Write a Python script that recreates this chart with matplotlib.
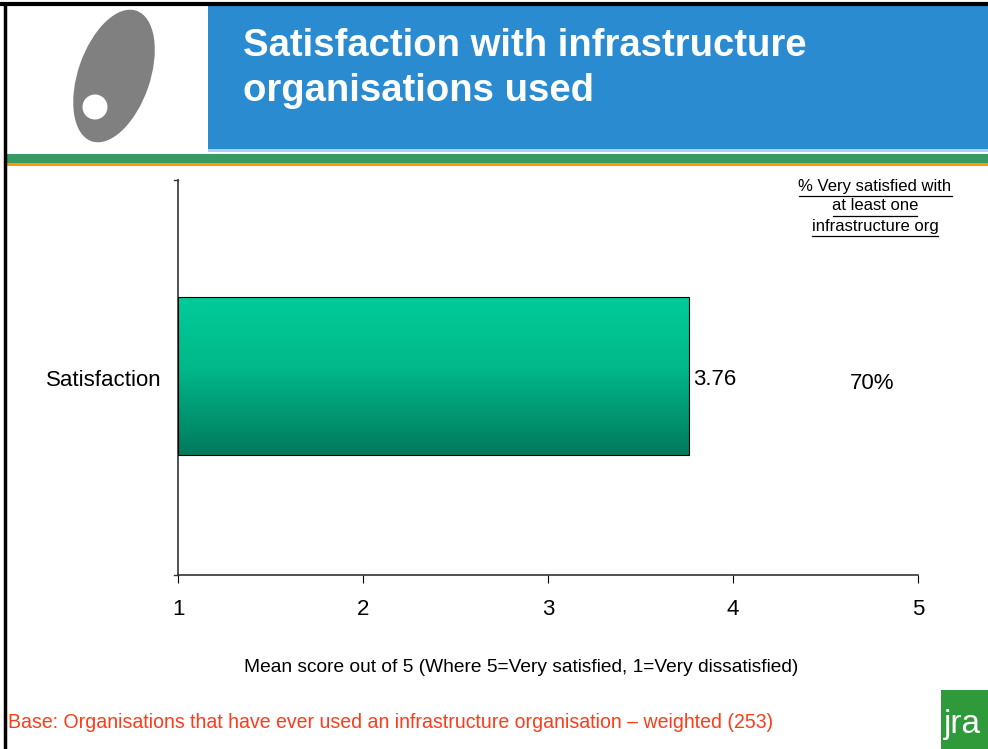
import numpy as np
import matplotlib.pyplot as plt
from matplotlib.patches import Rectangle, Ellipse, Circle
from matplotlib.colors import LinearSegmentedColormap

plt.rcParams['font.family'] = ['Liberation Sans', 'DejaVu Sans']

# Dados
categorias = ['Satisfaction']
medias = [3.76]
pct_muito_satisfeito = ['70%']
ticks_x = [1, 2, 3, 4, 5]

W, H = 988, 749
fig = plt.figure(figsize=(W / 100, H / 100), dpi=100)

# camada de fundo em pixels (cabecalho, logos, molduras)
bg = fig.add_axes([0, 0, 1, 1])
bg.set_xlim(0, W)
bg.set_ylim(H, 0)
bg.axis('off')

bg.add_patch(Rectangle((208, 5), W - 208, 145, color='#2A8BD0', lw=0))
bg.add_patch(Rectangle((208, 149), W - 208, 3, color='#A8D2F0', lw=0))
bg.add_patch(Rectangle((5, 154), W - 5, 9, color='#379A62', lw=0))
bg.add_patch(Rectangle((5, 163), W - 5, 3, color='#FF9900', lw=0))
bg.plot([0, W], [4, 4], color='black', lw=3)
bg.plot([5, 5], [4, H], color='black', lw=2.5)

# logo oval (eixo y invertido, por isso o angulo positivo inclina para a direita)
bg.add_patch(Ellipse((114, 76), 72, 138, angle=19, color='#808080', lw=0))
bg.add_patch(Circle((95, 107), 12.5, color='white', lw=0))

# logo jra
bg.add_patch(Rectangle((941, 690), 60, 70, color='#2E9A3A', lw=0))
bg.text(944, 733, 'jra', color='white', fontsize=24, va='baseline', ha='left')

# titulo
bg.text(243, 56, 'Satisfaction with infrastructure', color='white',
        fontsize=27.5, fontweight='bold', va='baseline', ha='left')
bg.text(243, 101, 'organisations used', color='white',
        fontsize=27.5, fontweight='bold', va='baseline', ha='left')

# grafico
ax = fig.add_axes([178 / W, 1 - 575 / H, 740 / W, 395 / H])
ax.patch.set_alpha(0)
ax.set_xlim(1, 5)
ax.set_ylim(-0.5, 0.5)
y = np.arange(len(categorias))
barras = ax.barh(y + 0.005, np.array(medias) - 1, left=1, height=0.4,
                 color='none', edgecolor='black', lw=0.8, zorder=3)

cmap = LinearSegmentedColormap.from_list(
    'verde', [(0, '#007A5C'), (0.55, '#00B88A'), (1, '#00CC99')])
grad = np.linspace(0, 1, 256).reshape(-1, 1)
for b in barras:
    x0, y0 = b.get_x(), b.get_y()
    ax.imshow(grad, cmap=cmap, aspect='auto', origin='lower',
              extent=(x0, x0 + b.get_width(), y0, y0 + b.get_height()),
              zorder=2)

for yi, m, p in zip(y, medias, pct_muito_satisfeito):
    ax.text(m + 0.025, yi - 0.005, f'{m:.2f}', va='center', ha='left', fontsize=16)
    ax.text(4.75, yi - 0.015, p, va='center', ha='center', fontsize=16)

ax.set_yticks(y)
ax.set_yticklabels(categorias, fontsize=16)
ax.set_xticks(ticks_x)
ax.set_xticklabels([str(t) for t in ticks_x], fontsize=16)
ax.tick_params(axis='y', length=0, pad=12)
ax.tick_params(axis='x', direction='out', length=6, pad=11)
for s in ['top', 'right']:
    ax.spines[s].set_visible(False)
for s in ['left', 'bottom']:
    ax.spines[s].set_color('#333333')
    ax.spines[s].set_linewidth(1.2)
ax.plot([0.98, 1], [0.5, 0.5], color='#333333', lw=1, clip_on=False)
ax.plot([0.98, 1], [-0.5, -0.5], color='#333333', lw=1, clip_on=False)

# nota de percentagem sublinhada
for y_t, txt in [(186, '% Very satisfied with'), (206, 'at least one'),
                 (226, 'infrastructure org')]:
    bg.text(875, y_t, txt, ha='center', va='center', fontsize=12)
for y_l, x_a, x_b in [(196, 799, 952), (216, 833, 917), (236, 812, 938)]:
    bg.plot([x_a, x_b], [y_l, y_l], color='black', lw=0.9)

bg.text(521, 668, 'Mean score out of 5 (Where 5=Very satisfied, 1=Very dissatisfied)',
        ha='center', va='center', fontsize=13.8)
bg.text(8, 723, 'Base: Organisations that have ever used an infrastructure '
        'organisation \u2013 weighted (253)', ha='left', va='center',
        fontsize=14.05, color='#FF3B1A')

fig.savefig('out.png', dpi=100)
